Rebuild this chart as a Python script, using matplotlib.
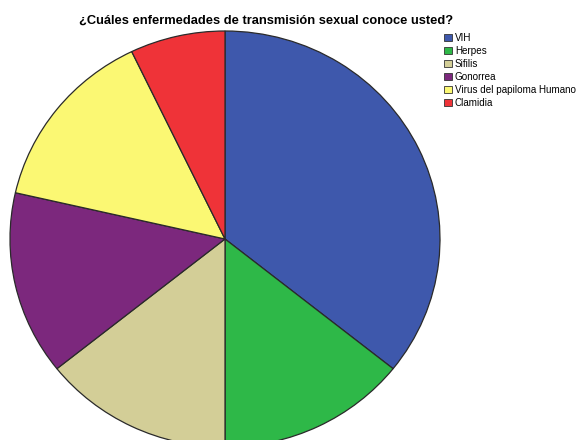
import matplotlib.pyplot as plt
from matplotlib.patches import Patch

plt.rcParams['font.family'] = ['Liberation Sans', 'DejaVu Sans']

labels = ['VIH', 'Herpes', 'Sifilis', 'Gonorrea', 'Virus del papiloma Humano', 'Clamidia']
counts = [5, 2, 2, 2, 2, 1]
colors = ['#3E58AC', '#2EB848', '#D3CE97', '#7C287D', '#FBF873', '#EF3338']

fig = plt.figure(figsize=(5.78, 4.40), dpi=100)

# pie area in pixels: centre (225, 239), rx 215, ry 208 (bottom is clipped)
W, H = 578, 440
cx, cy, rx, ry = 225, 239, 215, 208
ax = fig.add_axes([(cx - rx) / W, (H - cy - ry) / H, 2 * rx / W, 2 * ry / H])
ax.pie(counts, colors=colors, startangle=90, counterclock=False,
       wedgeprops=dict(edgecolor='#2a2a2a', linewidth=0.9))
ax.set_aspect('auto')
ax.set_xlim(-1, 1)
ax.set_ylim(-1, 1)
ax.axis('off')

fig.text(266 / W, 1 - 21 / H, '¿Cuáles enfermedades de transmisión sexual conoce usted?',
         ha='center', va='center', fontsize=9.3, fontweight='bold')

handles = [Patch(facecolor=c, edgecolor='#333333', linewidth=0.6) for c in colors]
fig.legend(handles, labels, loc='upper left', bbox_to_anchor=(444 / W, 1 - 33 / H),
           frameon=False, fontsize=7.1, handlelength=0.8, handleheight=0.8,
           handletextpad=0.3, labelspacing=0.3, borderaxespad=0, borderpad=0)

fig.savefig('out.png', dpi=100)
